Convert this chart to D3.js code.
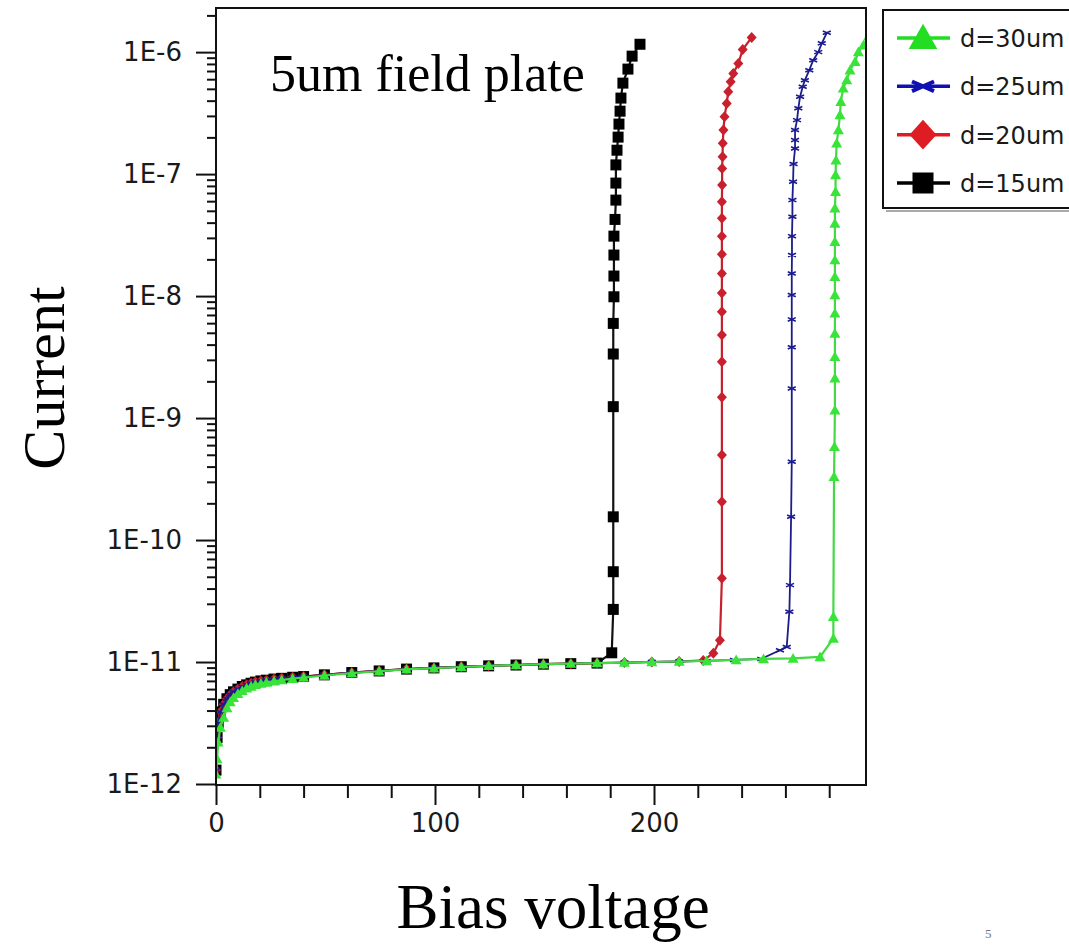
<!DOCTYPE html>
<html>
<head>
<meta charset="utf-8">
<script src="https://cdn.jsdelivr.net/npm/d3@7"></script>
<style>
  html, body { margin: 0; padding: 0; background: #fff; }
  svg { display: block; }
</style>
</head>
<body>
<svg id="chart" width="1069" height="946"></svg>
<script>
// ---- Data: bias voltage (V) vs. leakage current (A) ----

// Common low-bias leakage branch (d = 15, 20, 25 um)
const leakage = [
  [0, 1.3e-12], [0.5, 2.4e-12], [1, 3.2e-12], [2, 3.9e-12], [3.5, 4.5e-12],
  [5, 5.0e-12], [6.5, 5.4e-12], [8, 5.7e-12], [10, 6.0e-12], [12, 6.3e-12],
  [14, 6.5e-12], [16, 6.7e-12], [18, 6.85e-12], [20.5, 7.0e-12], [23, 7.1e-12],
  [26.5, 7.25e-12], [30, 7.35e-12], [35, 7.5e-12], [40, 7.6e-12], [49.5, 7.85e-12],
  [62, 8.2e-12], [74.5, 8.45e-12], [87, 8.75e-12], [99.5, 8.95e-12], [112, 9.15e-12],
  [124.5, 9.3e-12], [137, 9.45e-12], [149.5, 9.6e-12], [162, 9.7e-12], [174, 9.8e-12]
];

// Low-bias branch of the d = 30 um device
const leakageD30 = [
  [0, 1.2e-12], [0.5, 1.6e-12], [1, 2.2e-12], [2, 2.9e-12], [3.5, 3.5e-12],
  [5, 4.2e-12], [6.5, 4.7e-12], [8, 5.1e-12], [10, 5.5e-12], [12, 5.8e-12],
  [14, 6.1e-12], [16, 6.3e-12], [18, 6.5e-12], [20.5, 6.65e-12], [23, 6.8e-12],
  [26.5, 6.95e-12], [30, 7.1e-12], [35, 7.3e-12], [40, 7.45e-12], [49.5, 7.75e-12],
  [62, 8.1e-12], [74.5, 8.4e-12], [87, 8.7e-12], [99.5, 8.9e-12], [112, 9.1e-12],
  [124.5, 9.3e-12], [137, 9.45e-12], [149.5, 9.6e-12], [162, 9.7e-12], [174, 9.8e-12]
];

// Breakdown branches
const breakdownD15 = [
  [180.7, 1.19e-11], [181.4, 2.70e-11], [181.4, 5.50e-11], [181.4, 1.55e-10],
  [181.4, 1.24e-9], [181.4, 3.35e-9], [181.4, 5.97e-9], [181.7, 9.87e-9],
  [181.7, 1.46e-8], [181.7, 2.17e-8], [181.7, 3.10e-8], [182.2, 4.25e-8],
  [182.6, 6.12e-8], [182.6, 8.44e-8], [182.6, 1.19e-7], [183.1, 1.57e-7],
  [183.6, 2.01e-7], [184.0, 2.57e-7], [184.5, 3.28e-7], [184.9, 4.20e-7],
  [185.8, 5.57e-7], [188.1, 7.26e-7], [190.0, 9.27e-7], [193.6, 1.16e-6]
];

const breakdownD20 = [
  [186.5, 9.9e-12], [199, 1.0e-11], [211.5, 1.01e-11], [222.5, 1.03e-11],
  [227.1, 1.18e-11], [230.1, 1.51e-11], [231.0, 4.85e-11], [231.0, 2.06e-10],
  [231.0, 4.97e-10], [231.0, 1.48e-9], [231.0, 2.89e-9], [231.0, 4.79e-9],
  [231.0, 7.43e-9], [231.0, 1.06e-8], [231.0, 1.53e-8], [231.0, 2.20e-8],
  [231.0, 3.10e-8], [231.0, 4.34e-8], [231.0, 5.93e-8], [231.1, 8.13e-8],
  [231.1, 1.11e-7], [231.3, 1.39e-7], [231.4, 1.79e-7], [231.7, 2.30e-7],
  [232.2, 2.95e-7], [233.2, 3.80e-7], [233.9, 4.73e-7], [235.0, 5.71e-7],
  [236.2, 6.69e-7], [238.5, 8.07e-7], [240.5, 1.05e-6], [244.6, 1.32e-6]
];

const breakdownD25 = [
  [186.5, 9.9e-12], [199, 1.0e-11], [211.5, 1.01e-11], [224, 1.02e-11],
  [236.5, 1.04e-11], [249, 1.06e-11], [257.5, 1.25e-11], [260.6, 1.33e-11],
  [261.8, 2.58e-11], [262.1, 4.27e-11], [262.6, 1.55e-10], [262.9, 4.38e-10],
  [262.9, 1.75e-9], [262.9, 3.80e-9], [262.9, 6.44e-9], [262.9, 1.02e-8],
  [262.9, 1.53e-8], [263.0, 2.17e-8], [263.0, 3.10e-8], [263.2, 4.47e-8],
  [263.2, 6.12e-8], [263.5, 8.65e-8], [263.7, 1.21e-7], [264.4, 1.62e-7],
  [264.4, 1.90e-7], [264.4, 2.30e-7], [265.3, 2.77e-7], [265.9, 3.46e-7],
  [266.7, 4.31e-7], [267.9, 5.20e-7], [268.9, 5.89e-7], [270.9, 7.11e-7],
  [272.7, 8.59e-7], [275.0, 1.00e-6], [276.6, 1.18e-6], [278.9, 1.44e-6]
];

const breakdownD30 = [
  [186.5, 9.9e-12], [199, 1.0e-11], [211.5, 1.01e-11], [224, 1.02e-11],
  [237.5, 1.04e-11], [250, 1.06e-11], [263.5, 1.07e-11], [275.8, 1.10e-11],
  [281.9, 1.56e-11], [281.9, 2.35e-11], [282.2, 3.30e-10], [282.4, 5.82e-10],
  [282.6, 1.16e-9], [282.6, 2.12e-9], [282.6, 3.18e-9], [282.6, 4.94e-9],
  [282.6, 7.21e-9], [282.6, 1.02e-8], [282.6, 1.44e-8], [282.6, 1.97e-8],
  [282.6, 2.79e-8], [282.6, 3.94e-8], [282.6, 5.24e-8], [282.9, 7.16e-8],
  [282.9, 9.82e-8], [283.1, 1.30e-7], [283.4, 1.79e-7], [284.2, 2.30e-7],
  [284.9, 3.05e-7], [285.3, 3.92e-7], [286.4, 5.04e-7], [288.0, 5.89e-7],
  [289.5, 7.11e-7], [291.8, 8.32e-7], [293.3, 1.00e-6], [295.6, 1.14e-6],
  [298.0, 1.35e-6]
];

// Series, in drawing order (last drawn on top)
const seriesNames = ["d=15um", "d=20um", "d=25um", "d=30um"];
const seriesData = [
  leakage.concat(breakdownD15),
  leakage.concat(breakdownD20),
  leakage.concat(breakdownD25),
  leakageD30.concat(breakdownD30)
];
const seriesLine = ["#111111", "#c4222c", "#1c1c8a", "#44d844"];
const seriesMarkerFill = ["#000000", "#c8202c", "#1a1a90", "#38e438"];
const seriesMarker = ["square", "diamond", "cross", "triangle"];
const seriesMarkerSize = [11, 10, 8, 10];

// Legend order
const legendOrder = ["d=30um", "d=25um", "d=20um", "d=15um"];
const legendColor = ["#22dd22", "#1010b0", "#dd1c24", "#000000"];

// Axis ticks
const xMajorTicks = [0, 100, 200];
const xMinorTicks = [20, 40, 60, 80, 120, 140, 160, 180, 220, 240, 260, 280];
const yMajorTicks = [1e-12, 1e-11, 1e-10, 1e-9, 1e-8, 1e-7, 1e-6];
const yTickLabels = ["1E-12", "1E-11", "1E-10", "1E-9", "1E-8", "1E-7", "1E-6"];

// ---- Layout ----
const plot = { left: 216, right: 866, top: 8, bottom: 785 };

const x = d3.scaleLinear().domain([0, 296.8]).range([plot.left, plot.right]);
const y = d3.scaleLog().domain([1e-12, 2.3e-6]).range([784, plot.top]);

const svg = d3.select("#chart");

svg.append("defs").append("clipPath").attr("id", "plotClip")
  .append("rect")
  .attr("x", plot.left).attr("y", plot.top)
  .attr("width", plot.right - plot.left).attr("height", plot.bottom - plot.top);

// Marker shapes
function markerPath(kind, s) {
  const p = d3.path();
  if (kind === "square") {
    p.rect(-s / 2, -s / 2, s, s);
  } else if (kind === "diamond") {
    p.moveTo(0, -s * 0.55); p.lineTo(s * 0.5, 0); p.lineTo(0, s * 0.55); p.lineTo(-s * 0.5, 0); p.closePath();
  } else if (kind === "triangle") {
    p.moveTo(0, -s * 0.55); p.lineTo(s * 0.55, s * 0.42); p.lineTo(-s * 0.55, s * 0.42); p.closePath();
  } else if (kind === "cross") {
    p.moveTo(-s / 2, -s * 0.22); p.lineTo(s / 2, s * 0.22);
    p.moveTo(-s / 2, s * 0.22); p.lineTo(s / 2, -s * 0.22);
  }
  return p.toString();
}

// ---- Axes ----
const yMinorTicks = [];
for (let e = -12; e <= -6; e++) {
  for (let m = 2; m <= 9; m++) {
    const v = m * Math.pow(10, e);
    if (v <= y.domain()[1]) yMinorTicks.push(v);
  }
}

const axisFont = "'DejaVu Sans', sans-serif";

svg.append("g").attr("transform", `translate(${plot.left},0)`)
  .call(d3.axisLeft(y).tickValues(yMajorTicks).tickSize(20).tickPadding(14)
    .tickFormat((d, i) => yTickLabels[i]));
svg.append("g").attr("transform", `translate(${plot.left},0)`)
  .call(d3.axisLeft(y).tickValues(yMinorTicks).tickSize(9).tickFormat(""));

svg.append("g").attr("transform", `translate(0,${plot.bottom})`)
  .call(d3.axisBottom(x).tickValues(xMajorTicks).tickSize(20).tickPadding(9)
    .tickFormat(d3.format("d")));
svg.append("g").attr("transform", `translate(0,${plot.bottom})`)
  .call(d3.axisBottom(x).tickValues(xMinorTicks).tickSize(13).tickFormat(""));

svg.selectAll(".domain").remove();
svg.selectAll(".tick line").attr("stroke", "#111").attr("stroke-width", 2);
svg.selectAll(".tick text")
  .attr("font-family", axisFont).attr("font-size", 26).attr("fill", "#1a1a1a");

// ---- Curves ----
const line = d3.line().x(d => x(d[0])).y(d => y(d[1]));
const curves = svg.append("g").attr("clip-path", "url(#plotClip)");

seriesData.forEach((data, i) => {
  const g = curves.append("g");
  g.append("path").datum(data)
    .attr("d", line)
    .attr("fill", "none")
    .attr("stroke", seriesLine[i])
    .attr("stroke-width", i === 2 ? 1.8 : 2.2);

  const kind = seriesMarker[i];
  g.selectAll("path.m").data(data).join("path")
    .attr("class", "m")
    .attr("transform", d => `translate(${x(d[0])},${y(d[1])})`)
    .attr("d", markerPath(kind, seriesMarkerSize[i]))
    .attr("fill", kind === "cross" ? "none" : seriesMarkerFill[i])
    .attr("stroke", kind === "cross" ? seriesMarkerFill[i] : "none")
    .attr("stroke-width", 1.6);
});

// Plot frame
svg.append("rect")
  .attr("x", plot.left).attr("y", plot.top)
  .attr("width", plot.right - plot.left).attr("height", plot.bottom - plot.top)
  .attr("fill", "none").attr("stroke", "#111").attr("stroke-width", 2);

// ---- Legend ----
const legend = svg.append("g");
const lgLeft = 883, lgTop = 10, lgBottom = 208;
legend.append("rect")
  .attr("x", lgLeft).attr("y", lgTop)
  .attr("width", 200).attr("height", lgBottom - lgTop)
  .attr("fill", "#fff").attr("stroke", "#111").attr("stroke-width", 2);
legend.append("line")
  .attr("x1", lgLeft + 3).attr("x2", 1069)
  .attr("y1", lgBottom + 3).attr("y2", lgBottom + 3)
  .attr("stroke", "#555").attr("stroke-width", 1);

const lgRowY = d3.scalePoint().domain(legendOrder).range([38, 183]);
const lgKinds = { "d=30um": "triangle", "d=25um": "cross", "d=20um": "diamond", "d=15um": "square" };
const lgSizes = { "d=30um": 26, "d=25um": 22, "d=20um": 27, "d=15um": 21 };

legendOrder.forEach((name, i) => {
  const yy = lgRowY(name);
  const c = legendColor[i];
  legend.append("line")
    .attr("x1", 897).attr("x2", 950).attr("y1", yy).attr("y2", yy)
    .attr("stroke", c).attr("stroke-width", 3.5);
  const kind = lgKinds[name];
  legend.append("path")
    .attr("transform", `translate(923,${yy})`)
    .attr("d", markerPath(kind, lgSizes[name]))
    .attr("fill", kind === "cross" ? "none" : c)
    .attr("stroke", kind === "cross" ? c : "none")
    .attr("stroke-width", 4);
  legend.append("text")
    .attr("x", 960).attr("y", yy + 9)
    .attr("font-family", axisFont).attr("font-size", 24).attr("fill", "#1a1a1a")
    .text(name);
});

// ---- Titles ----
const serif = "'Liberation Serif', 'Times New Roman', serif";

svg.append("text")
  .attr("x", 270).attr("y", 91)
  .attr("font-family", serif).attr("font-size", 52).attr("fill", "#000")
  .text("5um field plate");

svg.append("text")
  .attr("transform", "translate(64,378) rotate(-90)")
  .attr("text-anchor", "middle")
  .attr("font-family", serif).attr("font-size", 60).attr("fill", "#000")
  .text("Current");

svg.append("text")
  .attr("x", 553).attr("y", 928)
  .attr("text-anchor", "middle")
  .attr("font-family", serif).attr("font-size", 63).attr("fill", "#000")
  .text("Bias voltage");

svg.append("text")
  .attr("x", 985).attr("y", 938)
  .attr("font-family", serif).attr("font-size", 13).attr("fill", "#777")
  .text("5");
</script>
</body>
</html>
